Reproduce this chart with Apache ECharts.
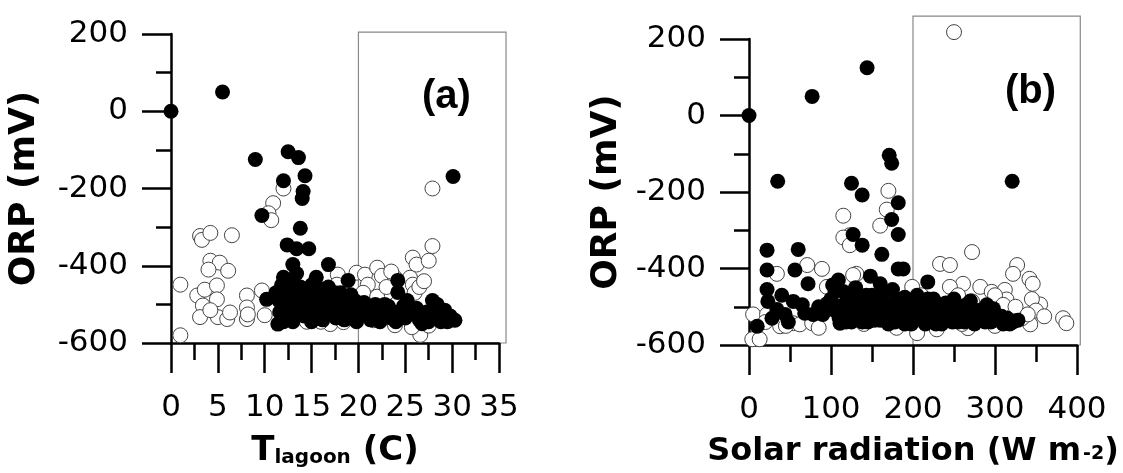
<!DOCTYPE html>
<html lang="en">
<head>
    <meta charset="UTF-8">
    <title>ORP vs T and solar radiation</title>
    <script src="https://cdn.jsdelivr.net/npm/echarts@6/dist/echarts.min.js"></script>
    <style>
        html, body { margin: 0; padding: 0; background: #fff; }
    </style>
</head>
<body>
<div id="main" style="width: 1123px; height: 473px"></div>
<script type="text/javascript">
    // panel (a): ORP vs lagoon temperature [T, ORP]
    var tempFilled = [
        [0, 0], [5.5, 50], [9, -125], [9.7, -270], [12.5, -105], [13.6, -120], [12, -180], [14.3, -167],
        [14.1, -208], [14, -226], [13.8, -303], [12.4, -346], [13.4, -356], [14.7, -356], [13, -397],
        [16.8, -397], [18.9, -438], [30.1, -169], [10.2, -487], [11.4, -551],
        [11.2, -470], [11.8, -450], [12, -430], [12.2, -495], [11.6, -520], [12.5, -460], [12.8, -530],
        [13, -440], [13.2, -480], [13.5, -510], [13.8, -455], [14, -500], [14.2, -530], [13.4, -420], [14.5, -470],
        [15, -450], [15.2, -490], [15.5, -520], [15.8, -470], [16, -500], [16.2, -540], [16.5, -480], [15.5, -430], [16.8, -455],
        [17, -490], [17.2, -520], [17.5, -470], [17.8, -505], [18, -530], [18.3, -495], [18.6, -480], [18.8, -515],
        [19, -500], [19.3, -530], [19.6, -490], [20, -510], [20.3, -525], [19.8, -545],
        [21, -505], [21.5, -525], [22, -515], [22.5, -530], [23, -520], [23.5, -535], [22.8, -500],
        [24.2, -438], [24.2, -469], [25.2, -490], [24.5, -520], [25, -535], [24, -545],
        [26, -525], [26.5, -540], [27, -530], [27.5, -545], [27.9, -490], [28.4, -500], [28, -520], [28.5, -535],
        [29, -530], [29.5, -545], [30, -540], [30.3, -541], [29.2, -515],
        [11.5, -490], [12.3, -510], [12.7, -475], [13.1, -500], [13.6, -470], [13.9, -525], [14.4, -495],
        [14.8, -515], [15.3, -470], [15.7, -505], [16.1, -460], [16.4, -520], [16.9, -500], [17.3, -480],
        [17.6, -535], [18.1, -470], [18.5, -540], [19.2, -475], [19.5, -515], [20.6, -495], [21.3, -540],
        [21.8, -500], [22.3, -545], [23.2, -505], [23.8, -520], [24.8, -505], [25.5, -525], [26.2, -510],
        [26.8, -550], [27.3, -520], [28.8, -545], [29.8, -530], [12, -545], [13, -545], [15, -545]
    ];
    var tempOpen = [
        [1, -580], [1, -449], [3.1, -323], [3.3, -333], [4.2, -315], [6.5, -321], [4.2, -387], [5.2, -392],
        [6.1, -413], [4, -410], [2.8, -477], [3.6, -462], [4.9, -451], [4.9, -487], [3.4, -503], [3.1, -533],
        [5, -533], [6, -538], [6.3, -521], [4.2, -515], [8.1, -477], [8.1, -508], [8.1, -538], [8.2, -526],
        [9.7, -464], [10, -528], [12, -200], [10.9, -238], [10.4, -264], [10.7, -282],
        [17.8, -423], [19.8, -418], [20.7, -423], [22, -405], [22.5, -426], [21, -449], [23.9, -431],
        [25.8, -379], [26.2, -397], [27.9, -349], [27.5, -387], [27.9, -200], [25.5, -431], [25.8, -449],
        [26.6, -579], [25.7, -559], [23.9, -554], [17, -551], [18.4, -546], [21.6, -541], [17.7, -449],
        [15, -530], [16, -545], [19.5, -535], [14.5, -545], [20.5, -470], [22, -480], [23, -455],
        [24, -500], [26, -470], [26.5, -455], [27, -440], [23.5, -415], [25, -510], [27.5, -555]
    ];
    // panel (b): ORP vs solar radiation [W m-2, ORP]
    var solarFilled = [
        [0, 0], [77, 50], [35, -172], [144, 125], [321, -172], [171, -104], [174, -125], [125, -177],
        [138, -208], [182, -228], [174, -272], [127, -311], [138, -339], [182, -311], [162, -363],
        [182, -401], [188, -401], [218, -435], [22, -352], [22, -404], [60, -350], [56, -404], [22, -455],
        [72, -440], [109, -430], [10, -551], [34, -507], [44, -520], [54, -486], [68, -517], [78, -520],
        [95, -492], [102, -443], [111, -543], [23, -486],
        [100, -480], [105, -510], [110, -530], [115, -495], [120, -470], [120, -520], [125, -540], [130, -500],
        [135, -480], [135, -525], [140, -510], [145, -490], [145, -540], [150, -470], [150, -520], [155, -500],
        [160, -535], [160, -480], [165, -510], [170, -495], [170, -545], [175, -520], [180, -480], [180, -505],
        [185, -530], [190, -475], [190, -545], [195, -510], [200, -490], [200, -530], [205, -470], [210, -515],
        [215, -545], [220, -500], [225, -480], [225, -530], [230, -510], [235, -545], [240, -490], [245, -525],
        [250, -505], [255, -540], [260, -515], [265, -495], [270, -530], [275, -545], [280, -510], [285, -525],
        [290, -495], [295, -540], [300, -520], [305, -535], [310, -545], [315, -530], [322, -540], [328, -535],
        [148, -420], [160, -440], [130, -450], [115, -460], [175, -455], [250, -480], [270, -485],
        [105, -460], [112, -500], [118, -540], [128, -515], [133, -495], [138, -540], [143, -470], [148, -515],
        [153, -535], [158, -495], [163, -470], [168, -525], [173, -505], [178, -540], [183, -490], [188, -515],
        [193, -495], [198, -545], [203, -515], [208, -495], [213, -530], [218, -480], [223, -515], [228, -545],
        [233, -495], [238, -520], [243, -505], [248, -540], [253, -495], [258, -525], [263, -540], [268, -510],
        [278, -530], [288, -540], [298, -505], [308, -525], [318, -545], [90, -520], [85, -500], [65, -495],
        [40, -470], [28, -530], [48, -540]
    ];
    var solarOpen = [
        [250, 218], [272, -357], [233, -388], [245, -391], [327, -391], [322, -414], [342, -427], [346, -440],
        [261, -440], [282, -448], [245, -448], [296, -461], [312, -456], [314, -481], [355, -494], [383, -530],
        [387, -543], [343, -546], [333, -530], [205, -569], [229, -559], [267, -556], [199, -448], [170, -197],
        [168, -246], [160, -288], [123, -313], [115, -262], [131, -414], [272, -486], [290, -504],
        [5, -520], [4, -585], [13, -585], [22, -520], [34, -414], [71, -391], [89, -401], [38, -551],
        [54, -543], [62, -546], [77, -543], [115, -319], [123, -339], [127, -417], [95, -448],
        [210, -470], [230, -500], [255, -470], [280, -520], [300, -470], [310, -495], [325, -500], [345, -480],
        [350, -510], [340, -520], [360, -525], [20, -540], [45, -550], [85, -555], [140, -545], [180, -555],
        [260, -545], [300, -550]
    ];
    // highlighted windows [xFrom, xTo, yFrom, yTo]
    var boxA = [20, 35.75, -600, 205];
    var boxB = [200, 404, -600, 260];

    var font = 'DejaVu Sans';

    function yAxis(gridIndex, gap) {
        return {
            type: 'value', gridIndex: gridIndex,
            min: -600, max: 200, interval: 200,
            name: 'ORP (mV)', nameLocation: 'middle', nameGap: gap,
            nameTextStyle: { fontFamily: font, fontWeight: 'bold', fontSize: 36, color: '#000' },
            axisLine: { show: true, lineStyle: { color: '#000', width: 2.5 } },
            axisTick: { show: true, length: 29, lineStyle: { color: '#000', width: 2.5 } },
            minorTick: { show: true, splitNumber: 2, length: 15, lineStyle: { color: '#000', width: 2.5 } },
            axisLabel: { margin: 43, fontFamily: font, fontSize: 31, color: '#000' },
            splitLine: { show: false }
        };
    }
    function xAxis(gridIndex, max, interval, name, rich) {
        return {
            type: 'value', gridIndex: gridIndex,
            min: 0, max: max, interval: interval,
            name: name, nameLocation: 'middle', nameGap: 91,
            nameTextStyle: { rich: rich },
            axisLine: { show: true, onZero: false, lineStyle: { color: '#000', width: 2.5 } },
            axisTick: { show: true, length: 30, lineStyle: { color: '#000', width: 2.5 } },
            minorTick: { show: true, splitNumber: 2, length: 17, lineStyle: { color: '#000', width: 2.5 } },
            axisLabel: { margin: 49, fontFamily: font, fontSize: 31, color: '#000', showMaxLabel: true },
            splitLine: { show: false }
        };
    }
    function openSeries(idx, data) {
        return {
            type: 'scatter', xAxisIndex: idx, yAxisIndex: idx, data: data, clip: false,
            symbolSize: 15,
            itemStyle: { color: '#fff', borderColor: '#444', borderWidth: 1, opacity: 1 }
        };
    }
    function filledSeries(idx, data) {
        return {
            type: 'scatter', xAxisIndex: idx, yAxisIndex: idx, data: data, clip: false,
            symbolSize: 15,
            itemStyle: { color: '#000', opacity: 1 }
        };
    }

    var myChart = echarts.init(document.getElementById('main'));
    var option = {
        animation: false,
        backgroundColor: '#fff',
        grid: [
            { left: 171, top: 34, width: 328, height: 312 },
            { left: 749, top: 39, width: 328, height: 310 }
        ],
        xAxis: [
            xAxis(0, 35, 5, '{t|T}{s|lagoon}{t| (C)}', {
                t: { fontFamily: font, fontWeight: 'bold', fontSize: 34, color: '#000' },
                s: { fontFamily: font, fontWeight: 'bold', fontSize: 20, color: '#000', padding: [14, 0, 0, 0] }
            }),
            xAxis(1, 400, 100, '{t|Solar radiation (W m}{p|-2}{t|)}', {
                t: { fontFamily: font, fontWeight: 'bold', fontSize: 32, color: '#000' },
                p: { fontFamily: font, fontWeight: 'bold', fontSize: 19, color: '#000', padding: [4, 0, 0, 2] }
            })
        ],
        yAxis: [yAxis(0, 128), yAxis(1, 124)],
        series: [
            openSeries(0, tempOpen), filledSeries(0, tempFilled),
            openSeries(1, solarOpen), filledSeries(1, solarFilled)
        ]
    };
    myChart.setOption(option);

    // grey window boxes and panel letters, placed from axis values
    function box(gridIndex, b) {
        var p1 = myChart.convertToPixel({ gridIndex: gridIndex }, [b[0], b[3]]);
        var p2 = myChart.convertToPixel({ gridIndex: gridIndex }, [b[1], b[2]]);
        return {
            type: 'rect', silent: true, z: -1,
            shape: { x: p1[0], y: p1[1], width: p2[0] - p1[0], height: p2[1] - p1[1] },
            style: { fill: 'none', stroke: '#888', lineWidth: 1.2 }
        };
    }
    myChart.setOption({
        graphic: [
            box(0, boxA), box(1, boxB),
            { type: 'text', left: 422, top: 77, style: { text: '(a)', font: 'bold 40px "Liberation Sans"', fill: '#000' } },
            { type: 'text', left: 1005, top: 72, style: { text: '(b)', font: 'bold 40px "Liberation Sans"', fill: '#000' } }
        ]
    });
</script>
</body>
</html>
